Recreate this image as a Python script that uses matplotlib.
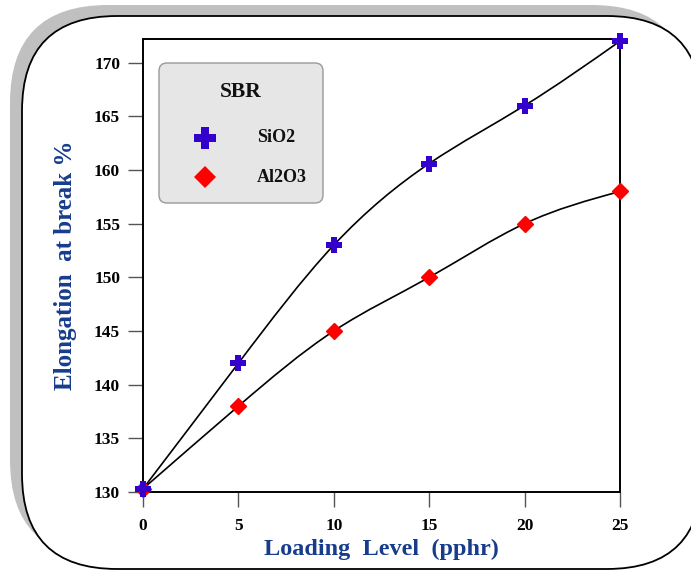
import matplotlib
matplotlib.use("Agg")
import matplotlib.pyplot as plt
import numpy as np
from matplotlib.patches import FancyBboxPatch, PathPatch
from matplotlib.path import Path

loading = [0, 5, 10, 15, 20, 25]
sio2 = [130.3, 142, 153, 160.6, 166, 172]
al2o3 = [130.3, 138, 145, 150, 155, 158]
xticks = [0, 5, 10, 15, 20, 25]
yticks = [130, 135, 140, 145, 150, 155, 160, 165, 170]
legend_title = "SBR"
series_names = ["SiO2", "Al2O3"]

SERIF = ["Liberation Serif", "DejaVu Serif"]
LBL = "#163c8c"
BLUE = "#3300cc"
RED = "#ff0000"

W, H = 691, 571
fig = plt.figure(figsize=(W / 100, H / 100), dpi=100)

# background frame in pixel coordinates
bg = fig.add_axes([0, 0, 1, 1], zorder=0)
bg.set_xlim(0, W)
bg.set_ylim(H, 0)
bg.axis("off")
bg.add_patch(FancyBboxPatch((10, 5), 680, 553, boxstyle="round,pad=0,rounding_size=98",
                            fc="#c0c0c0", ec="none"))
bg.add_patch(FancyBboxPatch((22, 16), 680, 553, boxstyle="round,pad=0,rounding_size=95",
                            fc="white", ec="black", lw=1.3))


def spline_path(xs, ys):
    """Natural cubic spline through the points, drawn as Bezier segments."""
    x = np.asarray(xs, float)
    y = np.asarray(ys, float)
    n = len(x)
    h = np.diff(x)
    A = np.zeros((n, n))
    r = np.zeros(n)
    A[0, 0] = A[-1, -1] = 1
    for i in range(1, n - 1):
        A[i, i - 1] = h[i - 1]
        A[i, i] = 2 * (h[i - 1] + h[i])
        A[i, i + 1] = h[i]
        r[i] = 6 * ((y[i + 1] - y[i]) / h[i] - (y[i] - y[i - 1]) / h[i - 1])
    M = np.linalg.solve(A, r)
    d = np.zeros(n)
    for i in range(n - 1):
        d[i] = (y[i + 1] - y[i]) / h[i] - h[i] * (2 * M[i] + M[i + 1]) / 6
    d[-1] = (y[-1] - y[-2]) / h[-1] + h[-1] * (M[-2] + 2 * M[-1]) / 6
    verts = [(x[0], y[0])]
    codes = [Path.MOVETO]
    for i in range(n - 1):
        k = h[i] / 3
        verts += [(x[i] + k, y[i] + k * d[i]), (x[i + 1] - k, y[i + 1] - k * d[i + 1]),
                  (x[i + 1], y[i + 1])]
        codes += [Path.CURVE4] * 3
    return Path(verts, codes)


L, R, T, B = 143, 620, 39, 492
ax = fig.add_axes([L / W, 1 - B / H, (R - L) / W, (B - T) / H], zorder=2)
ax.set_facecolor("none")
ax.set_xlim(0, 25)
ax.set_ylim(130, 172.2)

for ys in (sio2, al2o3):
    ax.add_patch(PathPatch(spline_path(loading, ys), fc="none", ec="black", lw=1.2,
                           zorder=3))
ax.plot(loading, al2o3, ls="none", marker="D", ms=8.5, color=RED, mec=RED, zorder=4,
        clip_on=False)
ax.plot(loading, sio2, ls="none", marker="P", ms=12, color=BLUE, mec=BLUE, mew=0,
        zorder=5, clip_on=False)

ax.set_xticks(xticks)
ax.set_yticks(yticks)
ax.tick_params(axis="both", direction="out", length=10.5, width=1.0, color="#555555",
               pad=6)
ax.tick_params(axis="x", pad=8)
for lab in ax.get_xticklabels() + ax.get_yticklabels():
    lab.set_fontfamily(SERIF)
    lab.set_fontweight("bold")
    lab.set_fontsize(12.5)
for sp in ax.spines.values():
    sp.set_linewidth(1.4)
    sp.set_color("black")

ax.set_xlabel("Loading  Level  (pphr)", fontfamily=SERIF, fontweight="bold",
              fontsize=17.5, color=LBL, labelpad=4)
ax.set_ylabel("Elongation  at break %", fontfamily=SERIF, fontweight="bold",
              fontsize=18, color=LBL, labelpad=12)

# legend overlay in pixel coordinates
ov = fig.add_axes([0, 0, 1, 1], zorder=6)
ov.set_xlim(0, W)
ov.set_ylim(H, 0)
ov.axis("off")
ov.add_patch(FancyBboxPatch((159, 63), 164, 140, boxstyle="round,pad=0,rounding_size=8",
                            fc="#e6e6e6", ec="#999999", lw=1.0))
ov.text(241, 92, legend_title, fontfamily=SERIF, fontweight="bold", fontsize=15.5,
        ha="center", va="center", color="#111111")
ov.plot([205], [138], marker="P", ms=16, color=BLUE, mew=0, ls="none")
ov.plot([205], [177], marker="D", ms=11, color=RED, mew=0, ls="none")
ov.text(257, 138, series_names[0], fontfamily=SERIF, fontweight="bold", fontsize=13,
        ha="left", va="center", color="#111111")
ov.text(257, 177, series_names[1], fontfamily=SERIF, fontweight="bold", fontsize=13,
        ha="left", va="center", color="#111111")

fig.savefig("out.png", dpi=100)
